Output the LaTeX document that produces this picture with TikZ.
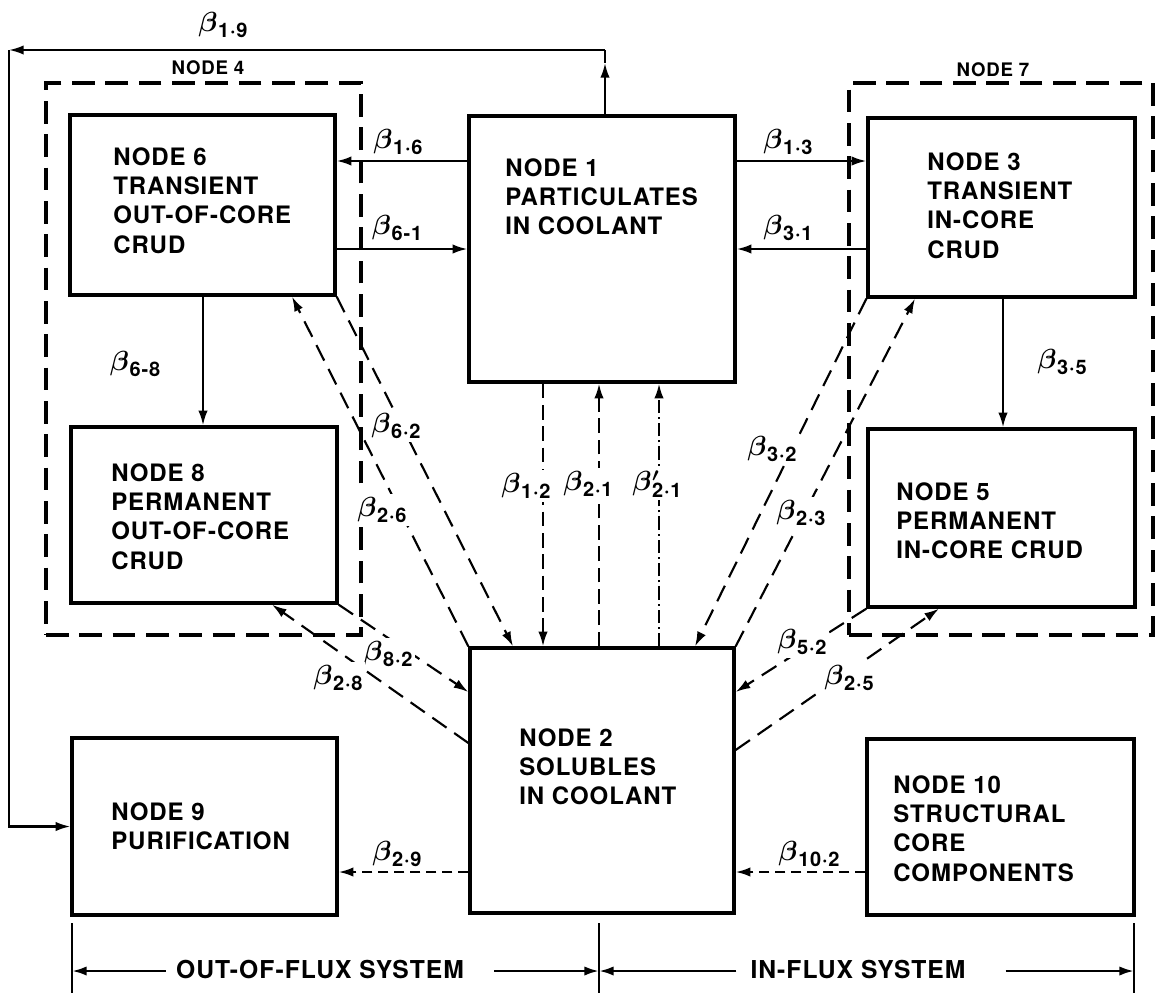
\documentclass[tikz,border=0pt]{standalone}
\usepackage{fontspec}
\setmainfont{TeX Gyre Heros}[LetterSpace=4]
\usetikzlibrary{arrows.meta}
\newcommand{\bb}[1]{{\fontsize{20}{20}\selectfont\boldmath$\beta$}\kern0.5pt\raisebox{-5pt}{\fontsize{15}{15}\selectfont\bfseries #1}}
\newcommand{\bbp}[1]{{\fontsize{20}{20}\selectfont\boldmath$\beta$}\kern0.5pt\rlap{\raisebox{7pt}{\fontsize{15}{15}\selectfont\boldmath$\prime$}}\raisebox{-5pt}{\fontsize{15}{15}\selectfont\bfseries #1}}
\begin{document}
\begin{tikzpicture}[x=0.75pt,y=-0.75pt,
  box/.style={draw,line width=2.5pt,inner sep=0pt,rectangle},
  cont/.style={draw,line width=2.6pt,inner sep=0pt,rectangle,dash pattern=on 17pt off 8pt},
  txt/.style={font=\fontsize{18}{22}\selectfont\bfseries,align=left,inner sep=0pt,anchor=north west},
  lab/.style={inner sep=2pt,anchor=center,fill=white},
  conn/.style={line width=1.6pt},
  arr/.style={conn,-{Latex[length=11pt,width=7pt]}},
  darr/.style={arr,dash pattern=on 13pt off 7pt},
  varr/.style={arr,dash pattern=on 11pt off 5pt},
  harr/.style={arr,dash pattern=on 8pt off 4pt},
  dotarr/.style={arr,dash pattern=on 10pt off 3pt on 1.5pt off 3pt},
  dim/.style={line width=1.4pt},
  dimarr/.style={line width=1.9pt,-{Latex[length=11pt,width=7pt]}}
]
\useasboundingbox (0,0) rectangle (1162,993);

% containers
\node[cont,minimum width={315*0.75pt},minimum height={552*0.75pt}] (n4) at (203.5,359) {};
\node[cont,minimum width={304*0.75pt},minimum height={552*0.75pt}] (n7) at (1001,359) {};
\node[font=\fontsize{14}{14}\selectfont\bfseries,inner sep=0pt] (l4) at (208,68) {NODE 4};
\node[font=\fontsize{14}{14}\selectfont\bfseries,inner sep=0pt] (l7) at (993,70) {NODE 7};

% boxes
\node[box,minimum width={265*0.75pt},minimum height={180*0.75pt}] (n6) at (202.5,205) {};
\node[box,minimum width={266*0.75pt},minimum height={266*0.75pt}] (n1) at (602,249) {};
\node[box,minimum width={267*0.75pt},minimum height={179*0.75pt}] (n3) at (1001.5,207.5) {};
\node[box,minimum width={266*0.75pt},minimum height={176*0.75pt}] (n8) at (204,515) {};
\node[box,minimum width={267*0.75pt},minimum height={178*0.75pt}] (n5) at (1001.5,518) {};
\node[box,minimum width={264*0.75pt},minimum height={265*0.75pt}] (n2) at (602,780.5) {};
\node[box,minimum width={265*0.75pt},minimum height={177*0.75pt}] (n9) at (204.5,826.5) {};
\node[box,minimum width={267*0.75pt},minimum height={176*0.75pt}] (n10) at (1000.5,827) {};

% texts
\node[txt] (t6) at (113,147) {NODE 6\\TRANSIENT\\OUT-OF-CORE\\CRUD};
\node[txt] (t1) at (505,158) {NODE 1\\PARTICULATES\\IN COOLANT};
\node[txt] (t3) at (927,152) {NODE 3\\TRANSIENT\\IN-CORE\\CRUD};
\node[txt] (t8) at (111,463) {NODE 8\\PERMANENT\\OUT-OF-CORE\\CRUD};
\node[txt] (t5) at (896,482) {NODE 5\\PERMANENT\\IN-CORE CRUD};
\node[txt] (t9) at (111,802) {NODE 9\\PURIFICATION};
\node[txt] (t2) at (519,728) {NODE 2\\SOLUBLES\\IN COOLANT};
\node[txt] (t10) at (893,775) {NODE 10\\STRUCTURAL\\CORE\\COMPONENTS};

% helper coordinates
\coordinate (y161) at (0,161);
\coordinate (y249) at (0,249);
\coordinate (y692) at (0,692);
\coordinate (y743) at (0,743);
\coordinate (y750) at (0,750);
\coordinate (y872) at (0,872);
\coordinate (x203) at (203,0);
\coordinate (x1003) at (1003,0);
\coordinate (x513) at (513,0);
\coordinate (x292) at (292,0);
\coordinate (x543) at (543,0);
\coordinate (x599) at (599,0);
\coordinate (x659) at (659,0);
\coordinate (x695) at (695,0);
\coordinate (x915) at (915,0);
\coordinate (x272) at (272,0);
\coordinate (x939) at (939,0);

% beta 1-9 loop
\coordinate (c19u) at (605,63);
\coordinate (c19a) at (605,50);
\coordinate (c19b) at (9,50);
\draw[arr] (n1.north -| c19a) -- (c19u);
\draw[conn] (c19u) -- (c19a);
\draw[arr] (c19a) -- (c19b);
\draw[arr] (c19b) |- (n9.west);

% solid horizontals / verticals
\draw[arr] (n1.west |- y161) -- (n6.east |- y161);
\draw[arr] (n6.east |- y249) -- (n1.west |- y249);
\draw[arr] (n1.east |- y161) -- (n3.west |- y161);
\draw[arr] (n3.west |- y249) -- (n1.east |- y249);
\draw[arr] (n6.south -| x203) -- (n8.north -| x203);
\draw[arr] (n3.south -| x1003) -- (n5.north -| x1003);

% dashed to/from node 2
\draw[varr] (n1.south -| x543) -- (n2.north -| x543);
\draw[varr] (n2.north -| x599) -- (n1.south -| x599);
\draw[dotarr] (n2.north -| x659) -- (n1.south -| x659);
\draw[darr] (n6.south east) -- (n2.north -| x513);
\draw[darr] (n2.north west) -- (n6.south -| x292);
\draw[darr] (n3.south west) -- (n2.north -| x695);
\draw[darr] (n2.north east) -- (n3.south -| x915);
\draw[darr] (n8.south east) -- (n2.west |- y692);
\draw[darr] (n2.west |- y743) -- (n8.south -| x272);
\draw[darr] (n5.south west) -- (n2.east |- y692);
\draw[darr] (n2.east |- y750) -- (n5.south -| x939);
\draw[harr] (n2.west |- y872) -- (n9.east |- y872);
\draw[harr] (n10.west |- y872) -- (n2.east |- y872);

% labels
\node[lab] (b19) at (223,25) {\bb{1·9}};
\node[lab] (b16) at (398,142) {\bb{1·6}};
\node[lab] (b61) at (397,228) {\bb{6-1}};
\node[lab] (b13) at (788,142) {\bb{1·3}};
\node[lab] (b31) at (788,228) {\bb{3·1}};
\node[lab] (b68) at (135,364) {\bb{6-8}};
\node[lab] (b35) at (1062,362) {\bb{3·5}};
\node[lab] (b62) at (396,426) {\bb{6·2}};
\node[lab] (b26) at (382,510) {\bb{2·6}};
\node[lab] (b12) at (526,486) {\bb{1·2}};
\node[lab] (b21) at (588,484) {\bb{2·1}};
\node[lab] (b21p) at (657,484) {\bbp{2·1}};
\node[lab] (b32) at (772,449) {\bb{3·2}};
\node[lab] (b23) at (801,513) {\bb{2·3}};
\node[lab] (b82) at (388,654) {\bb{8·2}};
\node[lab] (b28) at (338,678) {\bb{2·8}};
\node[lab] (b52) at (802,642) {\bb{5·2}};
\node[lab] (b25) at (849,678) {\bb{2·5}};
\node[lab] (b29) at (397,854) {\bb{2·9}};
\node[lab] (b102) at (809,854) {\bb{10·2}};

% bottom dimension
\coordinate (d1) at (72,923);
\coordinate (d2) at (599,923);
\coordinate (d3) at (1134,923);
\draw[dim] (d1) -- ++(0,70);
\draw[dim] (d2) -- ++(0,70);
\draw[dim] (d3) -- ++(0,70);
\node[font=\fontsize{18.5}{18.5}\selectfont\bfseries,inner sep=0pt] (sOut) at (320,969) {OUT-OF-FLUX SYSTEM};
\node[font=\fontsize{18.5}{18.5}\selectfont\bfseries,inner sep=0pt] (sIn) at (858,969) {IN-FLUX SYSTEM};
\coordinate (a1) at (72,971);
\coordinate (a2) at (599,971);
\coordinate (a3) at (1134,971);
\draw[dimarr] (sOut.west |- a1) ++(-10,0) -- (a1);
\draw[dimarr] (sOut.east |- a1) ++(30,0) -- (a2);
\draw[dimarr] (sIn.west |- a1) ++(-14,0) -- (a2);
\draw[dimarr] (sIn.east |- a1) ++(40,0) -- (a3);
\end{tikzpicture}
\end{document}
